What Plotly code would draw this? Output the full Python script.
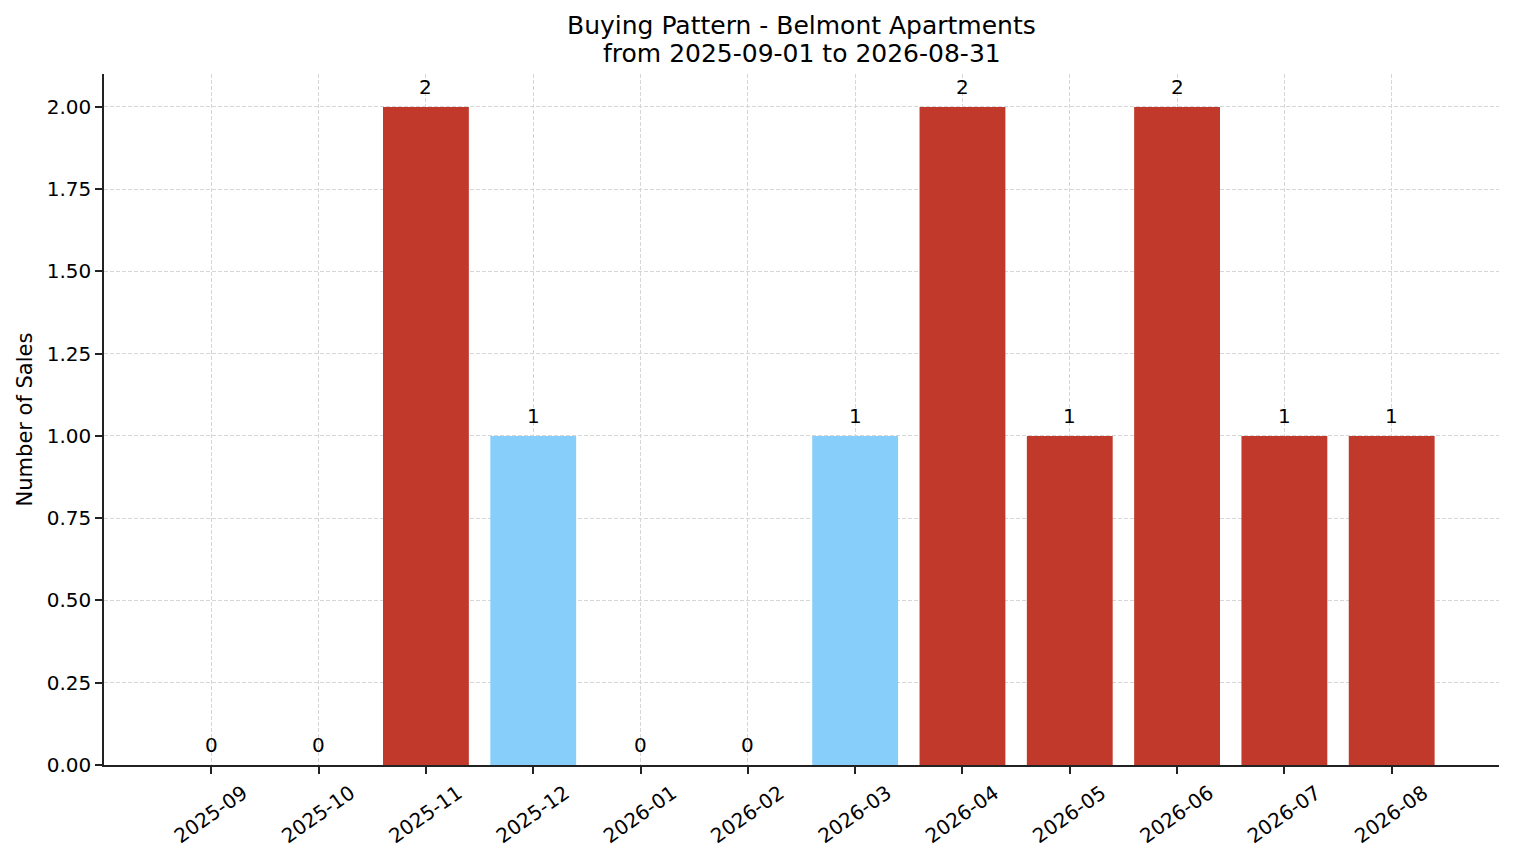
import plotly.graph_objects as go

months = ["2025-09", "2025-10", "2025-11", "2025-12", "2026-01", "2026-02",
          "2026-03", "2026-04", "2026-05", "2026-06", "2026-07", "2026-08"]
sales = [0, 0, 2, 1, 0, 0, 1, 2, 1, 2, 1, 1]
bar_colors = ["#C0392B", "#C0392B", "#C0392B", "#87CEFA", "#C0392B", "#C0392B",
              "#87CEFA", "#C0392B", "#C0392B", "#C0392B", "#C0392B", "#C0392B"]
y_ticks = [0, 0.25, 0.5, 0.75, 1.0, 1.25, 1.5, 1.75, 2.0]
title_lines = ["Buying Pattern - Belmont Apartments", "from 2025-09-01 to 2026-08-31"]

x_pos = list(range(len(months)))

fig = go.Figure()
fig.add_trace(go.Bar(x=x_pos, y=sales, width=0.8, marker=dict(color=bar_colors, line=dict(width=0)),
                     showlegend=False, hoverinfo="skip"))

# value labels above each bar (zeros too)
for i, v in zip(x_pos, sales):
    fig.add_annotation(x=i, y=v, text=str(v), showarrow=False, yanchor="bottom", yshift=6,
                       font=dict(size=20, color="black"))

# two line title, placed by hand above the plot area
for line, shift in zip(title_lines, [49, 21]):
    fig.add_annotation(x=0.5, y=1, xref="paper", yref="paper", text=line, showarrow=False,
                       yanchor="middle", yshift=shift, font=dict(size=25, color="black"))

# page body has an 8px margin, so the figure is a bit smaller than the window
fig.update_layout(
    width=1498, height=847,
    font=dict(family="DejaVu Sans", size=20, color="black"),
    plot_bgcolor="white", paper_bgcolor="white",
    margin=dict(l=96, r=7, t=66, b=88),
)
fig.update_xaxes(
    tickmode="array", tickvals=x_pos, ticktext=months, tickangle=-35,
    ticklabelshift=32,
    range=[-1, 12], showline=True, linecolor="#222222", linewidth=1.5,
    ticks="outside", ticklen=7, tickcolor="#222222", tickwidth=1.5,
    showgrid=True, gridcolor="#d6d6d6", griddash="4px,2px", gridwidth=0.8,
    layer="above traces", zeroline=False,
)
fig.update_yaxes(
    range=[0, 2.1], tickvals=y_ticks,
    tickformat=".2f", showline=True, linecolor="#222222", linewidth=1.5,
    ticks="outside", ticklen=7, tickcolor="#222222", tickwidth=1.5,
    showgrid=True, gridcolor="#d6d6d6", griddash="4px,2px", gridwidth=0.8,
    layer="above traces", zeroline=False,
    title=dict(text="Number of Sales", standoff=8,
               font=dict(family="DejaVu Sans", size=21, color="black")),
)

fig.write_html("out.html")
